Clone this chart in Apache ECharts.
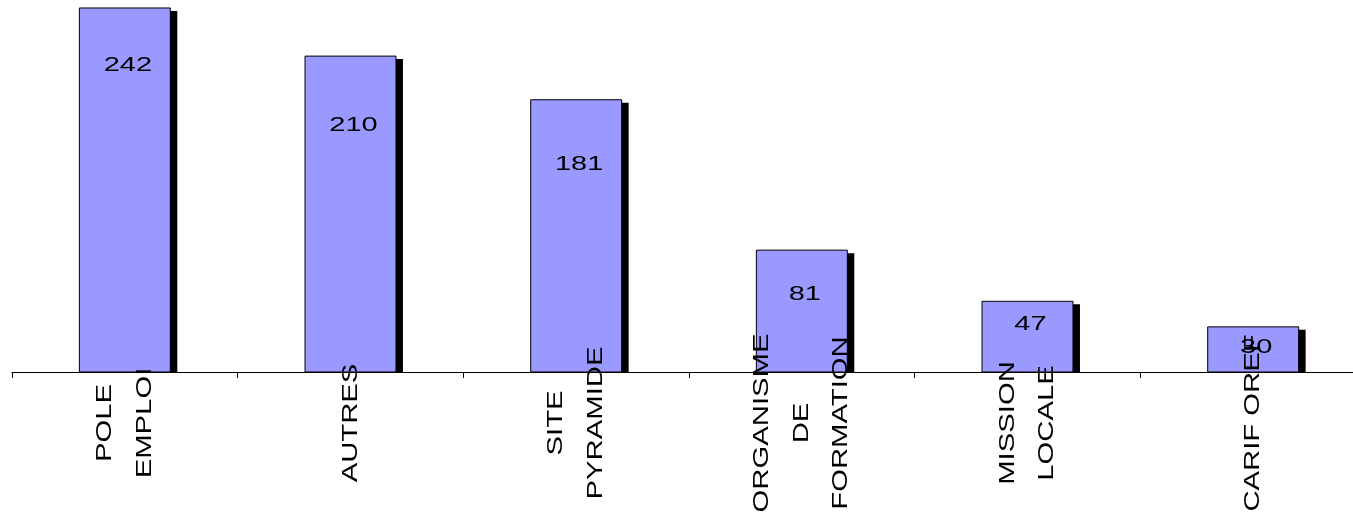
<!DOCTYPE html>
<html>
<head>
<meta charset="utf-8">
<script src="https://cdn.jsdelivr.net/npm/echarts@6/dist/echarts.min.js"></script>
<style>
html,body{margin:0;padding:0;background:#fff;overflow:hidden;width:1353px;height:522px;}
#chart{width:1366px;height:522px;}
</style>
</head>
<body>
<div id="chart"></div>
<script>
// ---- data ----
const categories = ['POLE EMPLOI', 'AUTRES', 'SITE PYRAMIDE', 'ORGANISME DE FORMATION', 'MISSION LOCALE', 'CARIF OREF'];
const tickLabels = ['POLE\nEMPLOI', 'AUTRES', 'SITE\nPYRAMIDE', 'ORGANISME\nDE\nFORMATION', 'MISSION\nLOCALE', 'CARIF OREF'];
const values = [242, 210, 181, 81, 47, 30];

// ---- layout / style (not data) ----
const valueLabelOffsets = [58, 69, 65, 44, 23, 21];
const FONT = "'Liberation Sans', Arial, sans-serif";

const chart = echarts.init(document.getElementById('chart'));

function renderItem(params, api) {
  const i = params.dataIndex;
  const base = api.coord([i, 0]);
  const top = api.coord([i, api.value(1)]);
  const bw = api.size([1, 0])[0] * 0.403;
  const x0 = base[0] - bw / 2;
  const h = base[1] - top[1];
  return {
    type: 'group',
    children: [
      { type: 'rect', shape: { x: x0 + 7, y: top[1] + 3, width: bw, height: h - 3 },
        style: { fill: '#000' } },
      { type: 'rect', shape: { x: x0, y: top[1], width: bw, height: h },
        style: { fill: '#9999FF', stroke: '#000', lineWidth: 1 } },
      { type: 'text', x: base[0] + 3, y: top[1] + valueLabelOffsets[i], scaleX: 1.45,
        style: { text: String(api.value(1)), fontSize: 20, fontFamily: FONT, fill: '#000',
                 align: 'center', verticalAlign: 'middle' } },
      { type: 'text', x: base[0], y: base[1] + 51, rotation: Math.PI / 2, scaleX: 1.33,
        style: { text: tickLabels[i], fontSize: 22, fontFamily: FONT, fill: '#000',
                 align: 'center', verticalAlign: 'middle', lineHeight: 39.5 } }
    ]
  };
}

chart.setOption({
  animation: false,
  backgroundColor: '#fff',
  grid: { left: 12, right: 0, top: 0, height: 372 },
  xAxis: {
    type: 'category',
    data: categories,
    boundaryGap: true,
    axisLine: { show: true, lineStyle: { color: '#000', width: 1 } },
    axisTick: { show: true, length: 6, lineStyle: { color: '#000' }, alignWithLabel: false },
    axisLabel: { show: false },
    splitLine: { show: false }
  },
  yAxis: {
    type: 'value', min: 0, max: 247.3, show: false, splitLine: { show: false }
  },
  series: [{
    type: 'custom',
    renderItem: renderItem,
    encode: { x: 0, y: 1 },
    data: values.map((v, i) => [i, v]),
    z: 3
  }]
});
</script>
</body>
</html>
